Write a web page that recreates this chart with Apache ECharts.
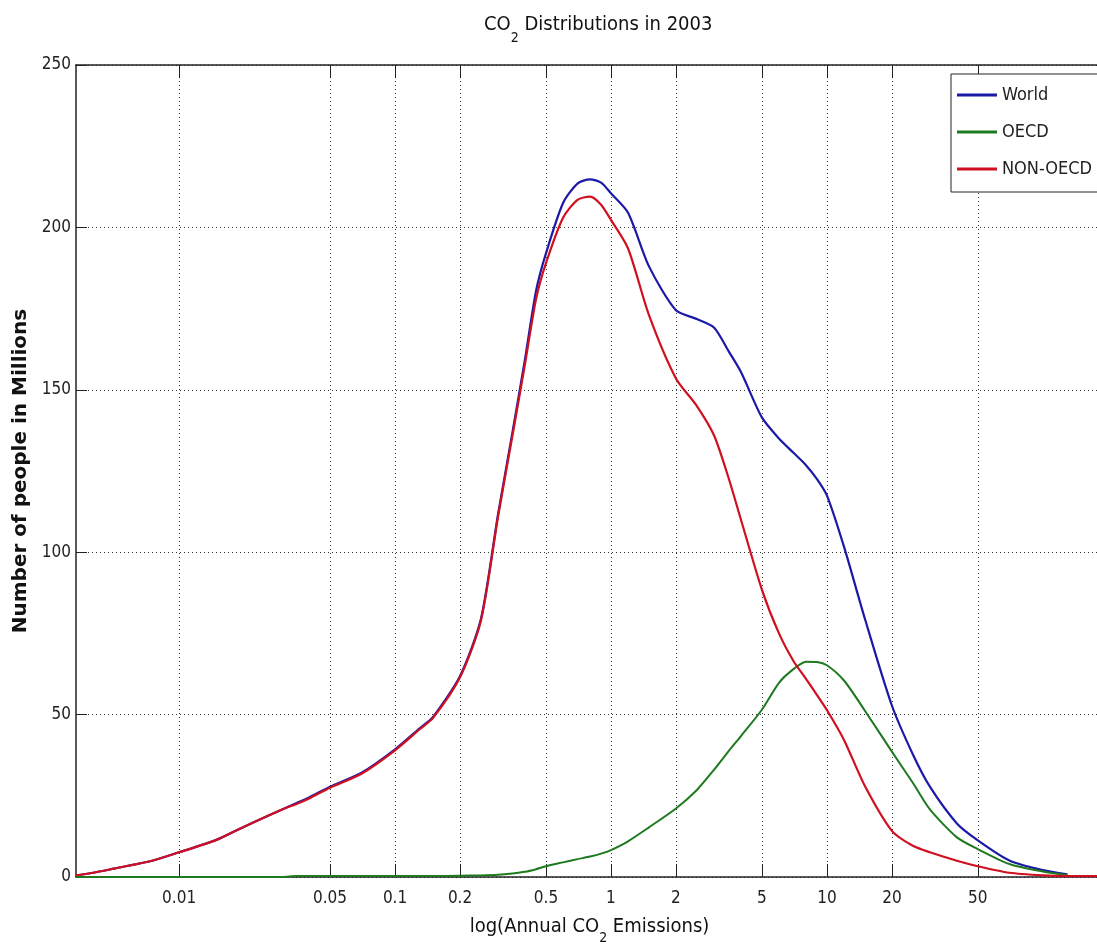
<!DOCTYPE html>
<html>
<head>
<meta charset="utf-8">
<script src="https://cdn.jsdelivr.net/npm/echarts@6/dist/echarts.min.js"></script>
<style>
html,body{margin:0;padding:0;background:#fff;}
#chart{width:1097px;height:948px;}
</style>
</head>
<body>
<div id="chart"></div>
<script>
// ---- data ----
const xValues = [0.00333, 0.0035, 0.004, 0.005, 0.0075, 0.01, 0.015, 0.02, 0.03, 0.035, 0.04, 0.05, 0.07, 0.1, 0.13, 0.15, 0.2, 0.25, 0.3, 0.35, 0.4, 0.45, 0.5, 0.6, 0.7, 0.8, 0.9, 1, 1.2, 1.5, 2, 2.5, 3, 3.5, 4, 5, 6, 7, 8, 9, 10, 12, 15, 20, 25, 30, 40, 50, 70, 100, 130, 150, 190];
const worldValues = [0.6, 0.7, 1.3, 2.6, 5.0, 7.6, 11.5, 15.5, 20.8, 22.8, 24.5, 27.8, 32.1, 39.3, 45.8, 49.3, 61.9, 79.5, 111.7, 137, 159.5, 180.5, 192, 207.5, 213.5, 214.8, 213.8, 210.5, 204.5, 188, 174.5, 171.8, 169.2, 162, 155.5, 141.5, 135, 130.6, 126.8, 122.5, 117.5, 101.7, 79.5, 52.8, 37.8, 27.8, 16.5, 11.3, 5.1, 2.1, 0.8, null, null];
const oecdValues = [0, 0, 0, 0, 0, 0, 0, 0, 0, 0.3, 0.3, 0.3, 0.3, 0.3, 0.3, 0.3, 0.4, 0.5, 0.7, 1.1, 1.6, 2.4, 3.3, 4.5, 5.5, 6.3, 7.2, 8.3, 11.0, 15.3, 21.1, 26.8, 33, 38.7, 43.4, 51.5, 59.8, 64, 66.3, 66.2, 65.2, 60.5, 51.2, 38.6, 29, 20.8, 12.2, 8.6, 4.0, 1.7, 0.6, null, null];
const nonOecdValues = [0.6, 0.7, 1.3, 2.6, 5.0, 7.6, 11.5, 15.5, 20.8, 22.5, 24.2, 27.5, 31.8, 39.0, 45.5, 49.0, 61.5, 79, 111, 136, 158, 178, 189, 203, 208.5, 209.5, 207, 202.3, 193.5, 173, 153.5, 145, 136, 123, 110, 88.5, 75, 66.5, 61, 56, 51.4, 42.2, 28, 14.2, 9.6, 7.6, 5, 3.3, 1.3, 0.5, 0.3, 0.3, 0.3];
const seriesNames = ['World', 'OECD', 'NON-OECD'];
const xTickValues = [0.01, 0.05, 0.1, 0.2, 0.5, 1, 2, 5, 10, 20, 50];
const xRange = [0.00333, 190];
const yRange = [0, 250, 50];

const NARROW = "'Liberation Sans Narrow', 'Arial Narrow', 'DejaVu Sans Condensed', sans-serif";
const colors = ['#1a1aa6', '#1e7a1e', '#d01020'];

function pairs(vals) {
  return xValues.map((x, i) => [x, vals[i]]);
}
function fmt(v) {
  return String(parseFloat(Number(v).toPrecision(6)));
}

const chart = echarts.init(document.getElementById('chart'), null, {renderer: 'canvas'});

const axisColor = '#222';

const option = {
  backgroundColor: '#ffffff',
  animation: false,
  color: colors,
  title: {
    text: '{a|CO}{s|2}{a| Distributions in 2003}',
    left: 484,
    top: 15,
    padding: 0,
    textStyle: {
      fontWeight: 'normal',
      rich: {
        a: {fontFamily: NARROW, fontSize: 20, fontWeight: 'normal', color: '#111', verticalAlign: 'top'},
        s: {fontFamily: NARROW, fontSize: 14, fontWeight: 'normal', color: '#111', verticalAlign: 'top', padding: [16, 0, 0, 0]}
      }
    }
  },
  legend: {
    orient: 'vertical',
    left: 951,
    top: 74,
    data: seriesNames,
    icon: 'rect',
    itemWidth: 40,
    itemHeight: 3,
    itemGap: 19,
    padding: [12, 6, 14, 6],
    backgroundColor: '#fff',
    borderColor: '#222',
    borderWidth: 1,
    borderRadius: 0,
    textStyle: {fontFamily: NARROW, fontSize: 18, color: '#222'}
  },
  grid: {
    left: 76,
    right: -6,
    top: 65,
    bottom: 71,
    outerBoundsMode: 'none',
    containLabel: false
  },
  xAxis: [{
    type: 'log',
    logBase: 10,
    min: xRange[0],
    max: xRange[1],
    position: 'bottom',
    name: '{a|log(Annual CO}{s|2}{a| Emissions)}',
    nameLocation: 'middle',
    nameGap: 40,
    nameTextStyle: {
      rich: {
        a: {fontFamily: NARROW, fontSize: 20, color: '#111', verticalAlign: 'top'},
        s: {fontFamily: NARROW, fontSize: 14, color: '#111', verticalAlign: 'top', padding: [14, 0, 0, 0]}
      }
    },
    axisLine: {show: true, onZero: false, lineStyle: {color: axisColor, width: 1.5}},
    axisTick: {show: true, inside: true, length: 13, customValues: xTickValues, lineStyle: {color: axisColor, width: 1}},
    minorTick: {show: false},
    axisLabel: {
      show: true,
      customValues: xTickValues,
      margin: 13,
      fontFamily: NARROW,
      fontSize: 17,
      color: '#222',
      formatter: fmt
    },
    splitLine: {show: true, lineStyle: {color: '#333', width: 1, type: [1, 3]}},
    minorSplitLine: {show: false}
  }, {
    type: 'log',
    logBase: 10,
    min: xRange[0],
    max: xRange[1],
    position: 'top',
    axisLine: {show: true, onZero: false, lineStyle: {color: axisColor, width: 1.5}},
    axisTick: {show: true, inside: true, length: 13, customValues: xTickValues, lineStyle: {color: axisColor, width: 1}},
    axisLabel: {show: false},
    splitLine: {show: false}
  }],
  yAxis: [{
    type: 'value',
    min: yRange[0],
    max: yRange[1],
    interval: yRange[2],
    name: 'Number of people in Millions',
    nameLocation: 'middle',
    nameGap: 31,
    nameTextStyle: {fontFamily: "'DejaVu Sans', sans-serif", fontWeight: 'bold', fontSize: 20, color: '#111'},
    axisLine: {show: true, lineStyle: {color: axisColor, width: 1.5}},
    axisTick: {show: true, inside: true, length: 11, lineStyle: {color: axisColor, width: 1}},
    axisLabel: {
      margin: 5,
      fontFamily: NARROW,
      fontSize: 17,
      color: '#222',
      padding: [7, 0, 0, 0]
    },
    splitLine: {show: true, lineStyle: {color: '#333', width: 1, type: [1, 3]}}
  }],
  series: [
    {name: seriesNames[0], type: 'line', data: pairs(worldValues), symbol: 'none', smooth: 0.25, connectNulls: false, lineStyle: {width: 2.2, color: colors[0]}, itemStyle: {color: colors[0]}, z: 2},
    {name: seriesNames[1], type: 'line', data: pairs(oecdValues), symbol: 'none', smooth: 0.25, connectNulls: false, lineStyle: {width: 2, color: colors[1]}, itemStyle: {color: colors[1]}, z: 3},
    {name: seriesNames[2], type: 'line', data: pairs(nonOecdValues), symbol: 'none', smooth: 0.25, connectNulls: false, lineStyle: {width: 2.2, color: colors[2]}, itemStyle: {color: colors[2]}, z: 4}
  ]
};

chart.setOption(option);
</script>
</body>
</html>
